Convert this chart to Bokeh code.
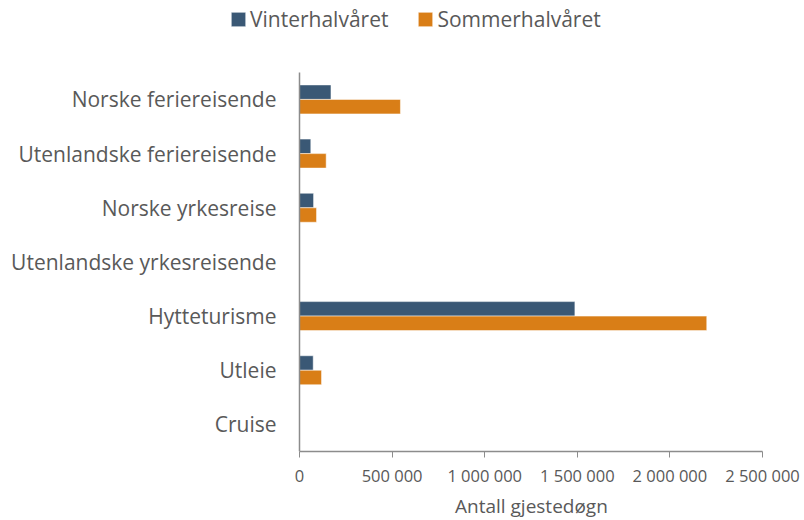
from bokeh.plotting import figure
from bokeh.models import ColumnDataSource, Range1d, FixedTicker, Legend, LegendItem, Title
from bokeh.embed import file_html
from bokeh.resources import INLINE

categories = ["Norske feriereisende", "Utenlandske feriereisende", "Norske yrkesreise",
              "Utenlandske yrkesreisende", "Hytteturisme", "Utleie", "Cruise"]
vinter = [170000, 61000, 76000, 0, 1487000, 74000, 0]
sommer = [545000, 144000, 92000, 0, 2199000, 119000, 0]
series_names = ["Vinterhalvåret", "Sommerhalvåret"]
tick_values = [0, 500000, 1000000, 1500000, 2000000, 2500000]
tick_labels = ["0", "500 000", "1 000 000", "1 500 000", "2 000 000", "2 500 000"]
x_title = "Antall gjestedøgn"

FONT = "Open Sans"
TXT = "#595959"
AXC = "#8c8c8c"

n = len(categories)
pos = [n - 1 - i for i in range(n)]          # first category at the top
OFF = 0.134
BAR_H = 0.267
src = ColumnDataSource(dict(cat=categories, pos=pos,
                            yv=[q + OFF for q in pos], ys=[q - OFF for q in pos],
                            vinter=vinter, sommer=sommer))

# layout geometry (pixels)
W, H = 804, 520
X0_PX, X1_PX = 299, 762
TOP_PX, BOT_PX = 72, 452
xmax = tick_values[-1]
xmin = -X0_PX * xmax / (X1_PX - X0_PX)
unit = (BOT_PX - TOP_PX) / n
ymin = -0.5
ymax = n - 0.5 + TOP_PX / unit

p = figure(width=W, height=H, output_backend="svg", toolbar_location=None,
           x_range=Range1d(xmin, xmax), y_range=Range1d(ymin, ymax),
           min_border_left=0, min_border_right=W - X1_PX, min_border_top=0,
           min_border_bottom=H - BOT_PX)
p.outline_line_color = None
p.xgrid.grid_line_color = None
p.ygrid.grid_line_color = None

r1 = p.hbar(y="yv", right="vinter", left=0, height=BAR_H, source=src,
            fill_color="#3A5875", line_color="white", line_width=0.5)
r2 = p.hbar(y="ys", right="sommer", left=0, height=BAR_H, source=src,
            fill_color="#D97E17", line_color="white", line_width=0.5)

# x axis
p.xaxis.ticker = FixedTicker(ticks=tick_values)
p.xaxis.major_label_overrides = {v: l for v, l in zip(tick_values, tick_labels)}
p.xaxis.bounds = (0, xmax)
p.xaxis.major_tick_line_color = AXC
p.xaxis.major_tick_out = 6
p.xaxis.major_tick_in = 0
p.xaxis.major_label_text_font_size = "16.5px"
p.xaxis.major_label_standoff = 6

# y axis at x = 0
p.yaxis.fixed_location = 0
p.yaxis.bounds = (-0.5, n - 0.5)
p.yaxis.ticker = FixedTicker(ticks=pos)
p.yaxis.major_label_overrides = {q: c for q, c in zip(pos, categories)}
p.yaxis.major_tick_line_color = None
p.yaxis.major_label_text_font_size = "21px"
p.yaxis.major_label_standoff = 17

for ax in (p.xaxis, p.yaxis):
    ax.axis_line_color = AXC
    ax.axis_line_width = 1.5
    ax.major_label_text_color = TXT
    ax.major_label_text_font = FONT
    ax.minor_tick_line_color = None

# x-axis title centred under the bounded axis (0 .. max)
p.add_layout(Title(text=x_title, align="left", offset=(X0_PX + X1_PX) / 2 - 76,
                   text_font=FONT, text_font_size="19px", text_font_style="normal",
                   text_color=TXT, standoff=3), "below")

legend = Legend(items=[LegendItem(label=series_names[0], renderers=[r1]),
                       LegendItem(label=series_names[1], renderers=[r2])],
                orientation="horizontal", location=(229, BOT_PX - 34),
                label_text_font=FONT, label_text_font_size="21px", label_text_color=TXT,
                glyph_width=18, glyph_height=18, spacing=28, label_standoff=3,
                background_fill_alpha=0, border_line_color=None, padding=0, margin=0)
p.add_layout(legend, "center")

open("out.html", "w").write(file_html(p, INLINE))
